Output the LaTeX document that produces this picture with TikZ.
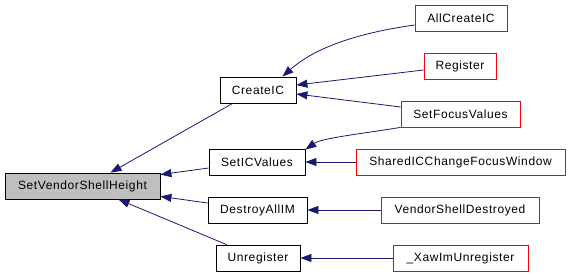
\documentclass[tikz,border=0pt]{standalone}
\usepackage{fontspec}
\setmainfont{Liberation Sans}[LetterSpace=5]
\usetikzlibrary{arrows.meta}
\definecolor{edgeblue}{HTML}{191970}
\definecolor{mainfill}{HTML}{BFBFBF}
\tikzset{
  fn/.style={draw=black, line width=0.8pt, minimum height=26pt, inner sep=0pt,
    font=\fontsize{12pt}{14pt}\selectfont, text=black},
  ext/.style={fn, draw=red},
  calledge/.style={draw=edgeblue, line width=0.8pt, -{Triangle[length=11pt,width=8pt]}}
}
\begin{document}
\begin{tikzpicture}[x=1pt,y=-1pt]
\useasboundingbox (0,0) rectangle (570,274);
\node[fn, fill=mainfill, minimum width=155pt] (svsh) at (82.5,186) {SetVendorShellHeight};
\node[fn, minimum width=76pt] (createic) at (258,90) {CreateIC};
\node[fn, minimum width=96pt] (seticvalues) at (257,162) {SetICValues};
\node[fn, minimum width=99pt] (destroyallim) at (257.5,210) {DestroyAllIM};
\node[fn, minimum width=84pt] (unregister) at (258,258) {Unregister};
\node[ext, minimum width=92pt] (allcreateic) at (461,18) {AllCreateIC};
\node[ext, minimum width=72pt] (register) at (460,66) {Register};
\node[ext, minimum width=119pt] (setfocusvalues) at (460.5,114) {SetFocusValues};
\node[ext, minimum width=209pt] (shared) at (460.5,162) {SharedICChangeFocusWindow};
\node[ext, minimum width=158pt] (vsd) at (460,210) {VendorShellDestroyed};
\node[ext, minimum width=135pt] (xaw) at (460.5,258) {\_XawImUnregister};

\draw[calledge] ([xshift=13pt]createic.south west) -- ([xshift=28pt]svsh.north);
\draw[calledge] ([yshift=-6pt]seticvalues.west) -- ([yshift=-2pt]svsh.north east);
\draw[calledge] ([yshift=7pt]destroyallim.west) -- ([yshift=3pt]svsh.south east);
\draw[calledge] ([xshift=11pt]unregister.north west) -- ([xshift=36pt]svsh.south);
\draw[calledge] ([yshift=-7pt]allcreateic.west) .. controls (365,32) and (318,45) .. ([xshift=-14pt]createic.north east);
\draw[calledge] ([yshift=-4pt]register.west) -- ([yshift=5pt]createic.east);
\draw[calledge] ([yshift=7pt]setfocusvalues.west) -- ([yshift=-4pt]createic.east);
\draw[calledge] (setfocusvalues.south west) .. controls (360,134) and (322,138) .. ([yshift=-1pt]seticvalues.north east);
\draw[calledge] (shared.west) -- (seticvalues.east);
\draw[calledge] (vsd.west) -- (destroyallim.east);
\draw[calledge] (xaw.west) -- (unregister.east);
\end{tikzpicture}
\end{document}
